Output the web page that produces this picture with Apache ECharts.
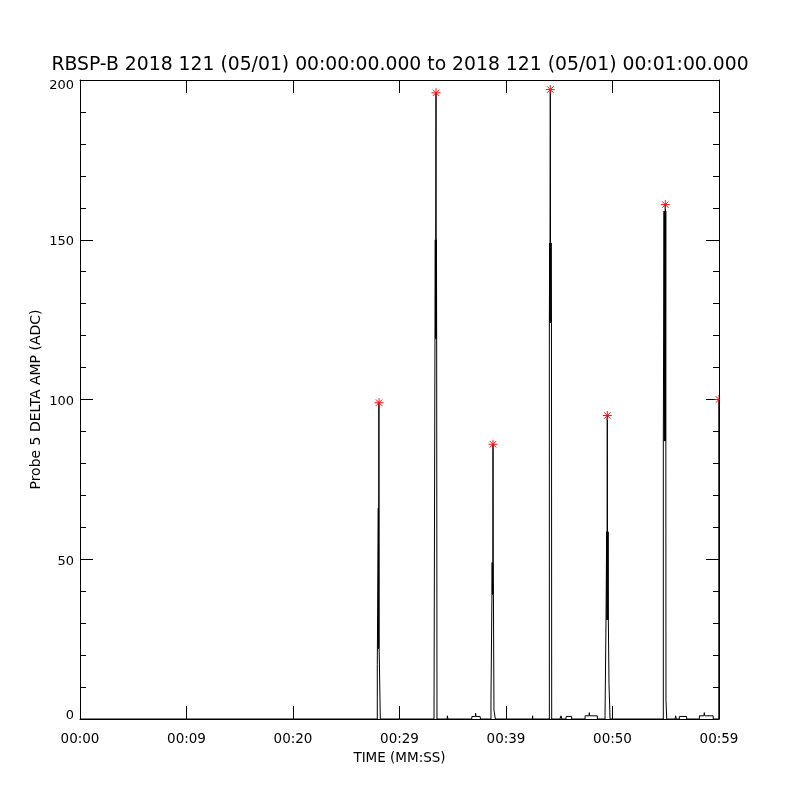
<!DOCTYPE html>
<html>
<head>
<meta charset="utf-8">
<script src="https://cdn.jsdelivr.net/npm/echarts@6/dist/echarts.min.js"></script>
<style>html,body{margin:0;padding:0;background:#fff}#c{width:800px;height:800px}</style>
</head>
<body>
<div id="c"></div>
<script>
// ---- data (time in seconds from 00:00:00, amplitude in ADC) ----
var titleText = 'RBSP-B 2018 121 (05/01) 00:00:00.000 to 2018 121 (05/01) 00:01:00.000';
var xTickLabels = ['00:00', '00:09', '00:20', '00:29', '00:39', '00:50', '00:59'];
var yTickLabels = ['0', '50', '100', '150', '200'];

var traceTime = [
  0, 27.915, 27.915, 28.009, 28.009, 28.02, 28.03, 28.04, 28.05, 28.066, 28.08, 28.09, 28.197, 28.197,
  33.24, 33.24, 33.33, 33.33, 33.36, 33.38, 33.40, 33.43, 33.44, 33.46, 33.47, 33.49, 33.52,
  34.46, 34.50, 34.54,
  36.78, 36.80, 37.13, 37.15, 37.18, 37.57, 37.60,
  38.59, 38.59, 38.68, 38.68, 38.70, 38.72, 38.74, 38.76, 38.78, 38.80, 38.82, 38.87, 38.87, 39.00, 39.00,
  42.48, 42.50, 42.52,
  44.07, 44.07, 44.10, 44.12, 44.16, 44.18, 44.21, 44.24, 44.27, 44.29, 44.29,
  45.07, 45.16, 45.25, 45.63, 45.65, 45.91, 45.93, 45.96, 46.16, 46.17,
  47.42, 47.43, 47.80, 47.82, 47.85, 48.57, 48.58,
  49.30, 49.30, 49.39, 49.39, 49.45, 49.48, 49.51, 49.53, 49.56, 49.59, 49.61, 49.67, 49.67, 49.77, 49.77,
  54.77, 54.77, 54.84, 54.87, 54.90, 54.93, 54.96, 54.98, 55.00, 55.01, 55.02, 55.09, 55.09,
  55.87, 55.93, 55.99, 56.27, 56.28, 56.95, 56.97,
  58.15, 58.16, 58.58, 58.62, 58.66, 59.45, 59.46, 59.98, 59.98
];
var traceAmp = [
  0, 0, 17, 17, 66, 22, 66, 22, 66, 99, 66, 22, 22, 0,
  0, 1, 1, 119, 150, 119, 150, 196, 150, 119, 150, 119, 0,
  0, 1, 0,
  0, 0.8, 0.8, 1.8, 0.8, 0.8, 0,
  0, 6.2, 6.2, 39, 49, 39, 49, 39, 86, 49, 39, 39, 2.8, 2.8, 0,
  0, 1, 0,
  0, 124, 149, 124, 197, 149, 124, 149, 124, 124, 0,
  0, 1, 0, 0, 0.8, 0.8, 1.3, 0.8, 0.8, 0,
  0, 1, 1, 2, 1, 1, 0,
  0, 1.2, 1.2, 31, 58.6, 31, 95, 58.6, 31, 58.6, 31, 31, 11, 11, 0,
  0, 87, 159, 87, 159, 87, 161, 87, 159, 87, 6, 6, 0,
  0, 1, 0, 0, 0.8, 0.8, 0,
  0, 1, 1, 2, 1, 1, 0, 0, 100
];
var peakTime = [28.08, 33.43, 38.78, 44.16, 49.51, 54.96, 60.0];
var peakAmp  = [99, 196, 86, 197, 95, 161, 100];

// ---- build ----
var traceData = traceTime.map(function (t, i) { return [t, traceAmp[i]]; });
var peakData = peakTime.map(function (t, i) { return [t, peakAmp[i]]; });

var FONT = 'DejaVu Sans';
var chart = echarts.init(document.getElementById('c'), null, { renderer: 'canvas' });

var xBase = {
  type: 'value', min: 0, max: 60, interval: 10,
  axisLine: { show: true, onZero: false, lineStyle: { color: '#000', width: 1 } },
  axisTick: { show: true, inside: true, length: 13, lineStyle: { color: '#000', width: 1 } },
  splitLine: { show: false }
};
var yBase = {
  type: 'value', min: 0, max: 200, interval: 50,
  axisLine: { show: true, onZero: false, lineStyle: { color: '#000', width: 1 } },
  axisTick: { show: true, inside: true, length: 13, lineStyle: { color: '#000', width: 1 } },
  minorTick: { show: true, splitNumber: 5, length: 6, lineStyle: { color: '#000', width: 1 } },
  splitLine: { show: false }
};
var lblStyle = { fontFamily: FONT, fontSize: 13, color: '#000' };

chart.setOption({
  animation: false,
  backgroundColor: '#fff',
  title: {
    text: titleText, left: 'center', top: 51,
    textStyle: { fontFamily: FONT, fontSize: 18.8, fontWeight: 'normal', color: '#000' }
  },
  grid: { left: 80, right: 81, top: 80, bottom: 81, containLabel: false },
  xAxis: [
    Object.assign({}, xBase, {
      position: 'bottom',
      name: 'TIME (MM:SS)', nameLocation: 'middle', nameGap: 32,
      nameTextStyle: { fontFamily: FONT, fontSize: 13.5, color: '#000' },
      axisLabel: {
        show: true, margin: 13, fontFamily: FONT, fontSize: 13.5, color: '#000',
        formatter: function (v) { return xTickLabels[Math.round(v / 10)]; }
      }
    }),
    Object.assign({}, xBase, { position: 'top', axisLabel: { show: false } })
  ],
  yAxis: [
    Object.assign({}, yBase, {
      position: 'left',
      name: 'Probe 5 DELTA AMP (ADC)', nameLocation: 'middle', nameGap: 37,
      nameMoveOverlap: false,
      nameTextStyle: { fontFamily: FONT, fontSize: 14, color: '#000' },
      axisLabel: {
        show: true, margin: 6, fontFamily: FONT, fontSize: 13, color: '#000',
        formatter: function (v) {
          var i = Math.round(v / 50);
          var key = i === 0 ? 'lo' : (i === yTickLabels.length - 1 ? 'hi' : 'mid');
          return '{' + key + '|' + yTickLabels[i] + '}';
        },
        rich: {
          lo: Object.assign({ padding: [0, 0, 7, 0] }, lblStyle),
          mid: Object.assign({ padding: [4, 0, 0, 0] }, lblStyle),
          hi: Object.assign({ padding: [11, 0, 0, 0] }, lblStyle)
        }
      }
    }),
    Object.assign({}, yBase, { position: 'right', axisLabel: { show: false } })
  ],
  series: [
    {
      type: 'line', xAxisIndex: 0, yAxisIndex: 0, data: traceData,
      showSymbol: false, symbol: 'none', sampling: null, clip: true,
      lineStyle: { color: '#000', width: 1 }, z: 2
    },
    {
      type: 'custom', xAxisIndex: 0, yAxisIndex: 0, data: peakData, clip: true, z: 3,
      renderItem: function (params, api) {
        var p = api.coord([api.value(0), api.value(1)]);
        var r = 4.5, d = 3.2;
        var st = { stroke: '#ff1010', lineWidth: 1 };
        return {
          type: 'group',
          children: [
            { type: 'line', shape: { x1: p[0] - r, y1: p[1], x2: p[0] + r, y2: p[1] }, style: st },
            { type: 'line', shape: { x1: p[0], y1: p[1] - r, x2: p[0], y2: p[1] + r }, style: st },
            { type: 'line', shape: { x1: p[0] - d, y1: p[1] - d, x2: p[0] + d, y2: p[1] + d }, style: st },
            { type: 'line', shape: { x1: p[0] - d, y1: p[1] + d, x2: p[0] + d, y2: p[1] - d }, style: st }
          ]
        };
      }
    }
  ]
});
</script>
</body>
</html>
